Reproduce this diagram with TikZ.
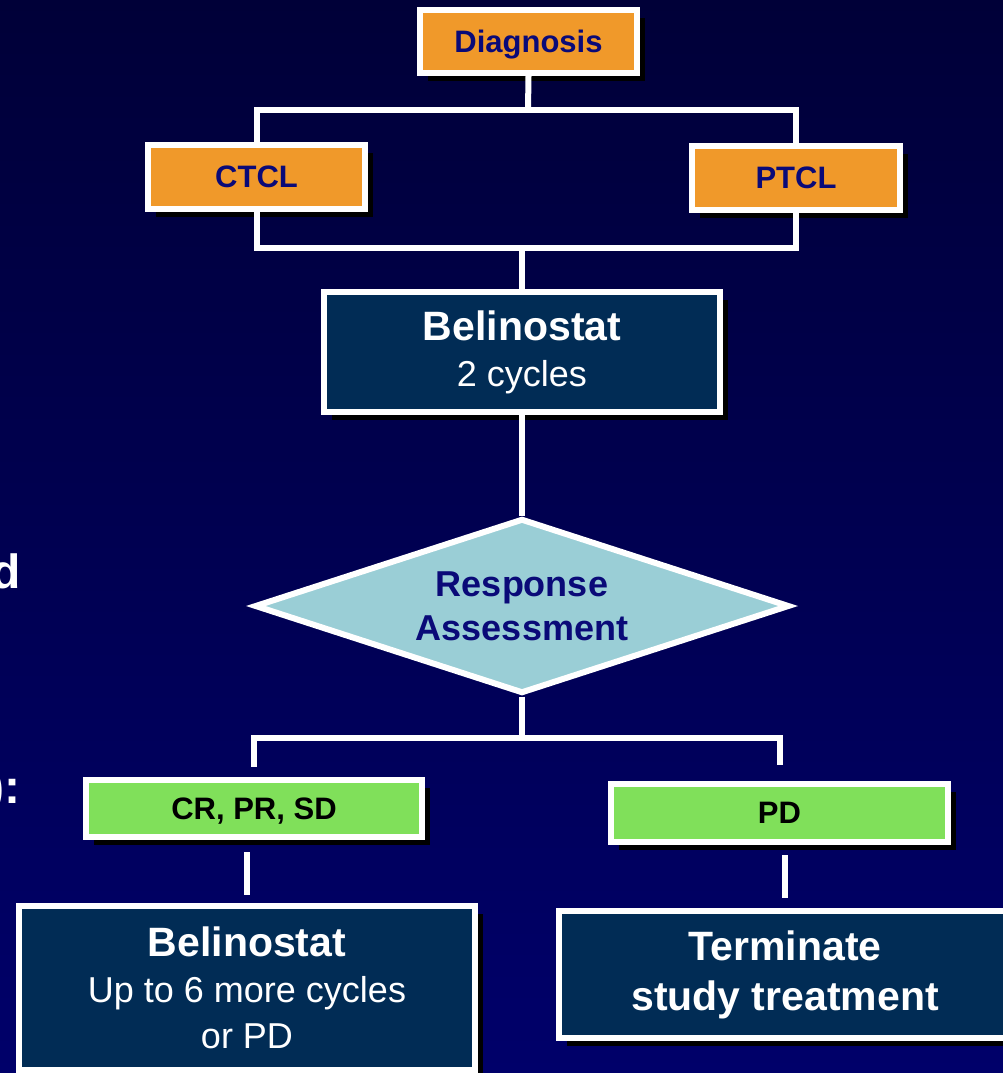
\documentclass[tikz,border=0pt]{standalone}
\usepackage{fontspec}
\setmainfont{Liberation Sans}
\usetikzlibrary{shapes.geometric,shadows}

\definecolor{bgtop}{RGB}{0,0,56}
\definecolor{bgbottom}{RGB}{0,0,106}
\definecolor{boxorange}{RGB}{240,153,42}
\definecolor{boxnavy}{RGB}{1,44,85}
\definecolor{boxgreen}{RGB}{128,224,90}
\definecolor{boxcyan}{RGB}{154,206,214}
\definecolor{textnavy}{RGB}{10,10,120}

\begin{document}
\begin{tikzpicture}[
    x=1pt, y=-1pt,
    box/.style={rectangle, draw=white, line width=6pt, inner sep=0pt, align=center,
        drop shadow={shadow xshift=8pt, shadow yshift=-8pt, fill=black, opacity=1}},
    orangebox/.style={box, fill=boxorange, text=textnavy, text depth=0pt, font=\bfseries\fontsize{31}{36}\selectfont},
    greenbox/.style={box, fill=boxgreen, text=black, text depth=0pt, font=\bfseries\fontsize{31}{36}\selectfont},
    navybox/.style={box, fill=boxnavy, text=white, font=\fontsize{36}{46}\selectfont},
    decision/.style={diamond, aspect=3, draw=white, line width=6pt, fill=boxcyan, inner sep=0pt, align=center,
        minimum width=535pt, minimum height=175pt, text=textnavy, font=\bfseries\fontsize{36}{44}\selectfont},
    fragment/.style={inner sep=0pt, text=white, font=\bfseries\fontsize{48}{56}\selectfont},
    link/.style={draw=white, line width=6pt}
]
    % Hintergrund
    \useasboundingbox (0,0) rectangle (1003,1073);
    \shade[top color=bgtop, bottom color=bgbottom] (0,0) rectangle (1003,1073);

    % Randtexte
    \node[fragment, anchor=base east] (frag1) at (21,588) {d};
    \node[fragment, anchor=base east] (frag2) at (21,803) {):};

    % Knoten
    \node[orangebox, minimum width=217pt, minimum height=63pt] (diag) at (528.5,41.5) {Diagnosis};
    \node[orangebox, minimum width=217pt, minimum height=64pt] (ctcl) at (256.5,177) {CTCL};
    \node[orangebox, minimum width=208pt, minimum height=64pt] (ptcl) at (796,178) {PTCL};
    \node[navybox, minimum width=396pt, minimum height=120pt] (bel1) at (522,352)
        {{\bfseries\fontsize{41}{46}\selectfont Belinostat}\\2 cycles};
    \node[decision] (resp) at (522,606) {Response\\Assessment};
    \node[greenbox, minimum width=336pt, minimum height=57pt] (crbox) at (254,808.5) {CR, PR, SD};
    \node[greenbox, minimum width=337pt, minimum height=58pt] (pdbox) at (779.5,813) {PD};
    \node[navybox, minimum width=456pt, minimum height=164pt] (bel2) at (247,988)
        {{\bfseries\fontsize{41}{46}\selectfont Belinostat}\\Up to 6 more cycles\\or PD};
    \node[navybox, minimum width=452pt, minimum height=127pt, font=\bfseries\fontsize{41}{50}\selectfont] (term) at (785,974.5)
        {Terminate\\study treatment};

    % Verbindungen
    \coordinate (split1) at (528,110);
    \coordinate (join1) at (522,248);
    \coordinate (split2) at (522,738);
    \draw[link] (diag.south) -- (split1);
    \draw[link] (ctcl.north) |- (split1) -| (ptcl.north);
    \draw[link] (ctcl.south) |- (join1) -| (ptcl.south);
    \draw[link] (join1) -- (bel1.north);
    \draw[link] (bel1.south) -- (resp.north);
    \draw[link] (resp.south) -- (split2);
    \draw[link, shorten >=10pt] (split2) -| (crbox.north);
    \draw[link, shorten >=16pt] (split2) -| (pdbox.north);
    \draw[link, shorten <=12pt, shorten >=8pt] (bel2.north |- crbox.south) -- (bel2.north);
    \draw[link, shorten <=10pt, shorten >=10pt] (term.north |- pdbox.south) -- (term.north);
\end{tikzpicture}
\end{document}
